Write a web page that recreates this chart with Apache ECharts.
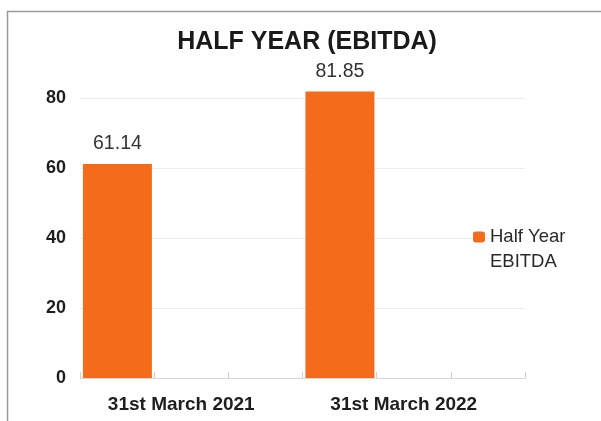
<!DOCTYPE html>
<html>
<head>
<meta charset="utf-8">
<script src="https://cdn.jsdelivr.net/npm/echarts@6/dist/echarts.min.js"></script>
<style>
  html, body { margin: 0; padding: 0; background: #ffffff; }
  #chart { width: 601px; height: 421px; }
</style>
</head>
<body>
<div id="chart"></div>
<script>
// Half-year EBITDA figures
const categories = ['31st March 2021', '31st March 2022'];
const ebitda = [61.14, 81.85];
const seriesName = 'Half Year EBITDA';
const yTicks = [0, 20, 40, 60, 80];

// each period holds three bar slots; only the first one carries data
const emptySlot = categories.map(() => '-');
const subSlots = Array(categories.length * 3).fill('');

const FONT = '"Liberation Sans", Arial, sans-serif';

const chart = echarts.init(document.getElementById('chart'), null, { renderer: 'canvas' });

chart.setOption({
  backgroundColor: '#ffffff',
  animation: false,
  graphic: [{
    type: 'rect',
    shape: { x: 7.5, y: 11.5, width: 800, height: 600 },
    style: { fill: 'none', stroke: '#9a9a9a', lineWidth: 1.5 },
    silent: true
  }],
  title: {
    text: 'HALF YEAR (EBITDA)',
    left: 302,
    textAlign: 'center',
    top: 25,
    textStyle: { fontFamily: FONT, fontSize: 25, fontWeight: 'bold', color: '#1a1a1a' }
  },
  legend: {
    data: [seriesName],
    orient: 'vertical',
    left: 473,
    top: 199.5,
    padding: 0,
    itemWidth: 12,
    itemHeight: 11,
    itemGap: 6,
    // leading blank line keeps the marker level with the first text line
    formatter: () => '\nHalf Year\nEBITDA',
    textStyle: { fontFamily: FONT, fontSize: 18.5, color: '#2a2a2a', lineHeight: 25 }
  },
  grid: { left: 80, right: 76, top: 98, bottom: 43 },
  xAxis: [{
    type: 'category',
    data: categories,
    axisLine: { lineStyle: { color: '#d6d6d6', width: 1 } },
    axisTick: { show: false },
    axisLabel: {
      fontFamily: FONT, fontSize: 19, fontWeight: 'bold', color: '#1e1e1e',
      margin: 17, padding: [0, 20, 0, 0]
    }
  }, {
    type: 'category',
    data: subSlots,
    position: 'bottom',
    axisLine: { show: false },
    axisLabel: { show: false },
    axisTick: { show: true, inside: true, length: 6, interval: 0, lineStyle: { color: '#cfcfcf' } }
  }],
  yAxis: {
    type: 'value',
    min: yTicks[0],
    max: yTicks[yTicks.length - 1],
    interval: 20,
    axisLine: { show: false },
    axisTick: { show: false },
    axisLabel: { fontFamily: FONT, fontSize: 18, fontWeight: 'bold', color: '#1e1e1e', margin: 14 },
    splitLine: { lineStyle: { color: '#ececec', width: 1 } }
  },
  series: [{
    name: seriesName,
    type: 'bar',
    data: ebitda,
    barWidth: 69,
    barGap: '7%',
    clip: false,
    itemStyle: { color: '#F46B1C' },
    label: {
      show: true,
      position: 'top',
      distance: 10,
      fontFamily: FONT,
      fontSize: 19.5,
      color: '#333',
      formatter: (p) => p.value.toFixed(2)
    }
  }, {
    name: 'slot2',
    type: 'bar',
    data: emptySlot,
    barWidth: 69,
    barGap: '7%'
  }, {
    name: 'slot3',
    type: 'bar',
    data: emptySlot,
    barWidth: 69,
    barGap: '7%'
  }]
});
</script>
</body>
</html>
